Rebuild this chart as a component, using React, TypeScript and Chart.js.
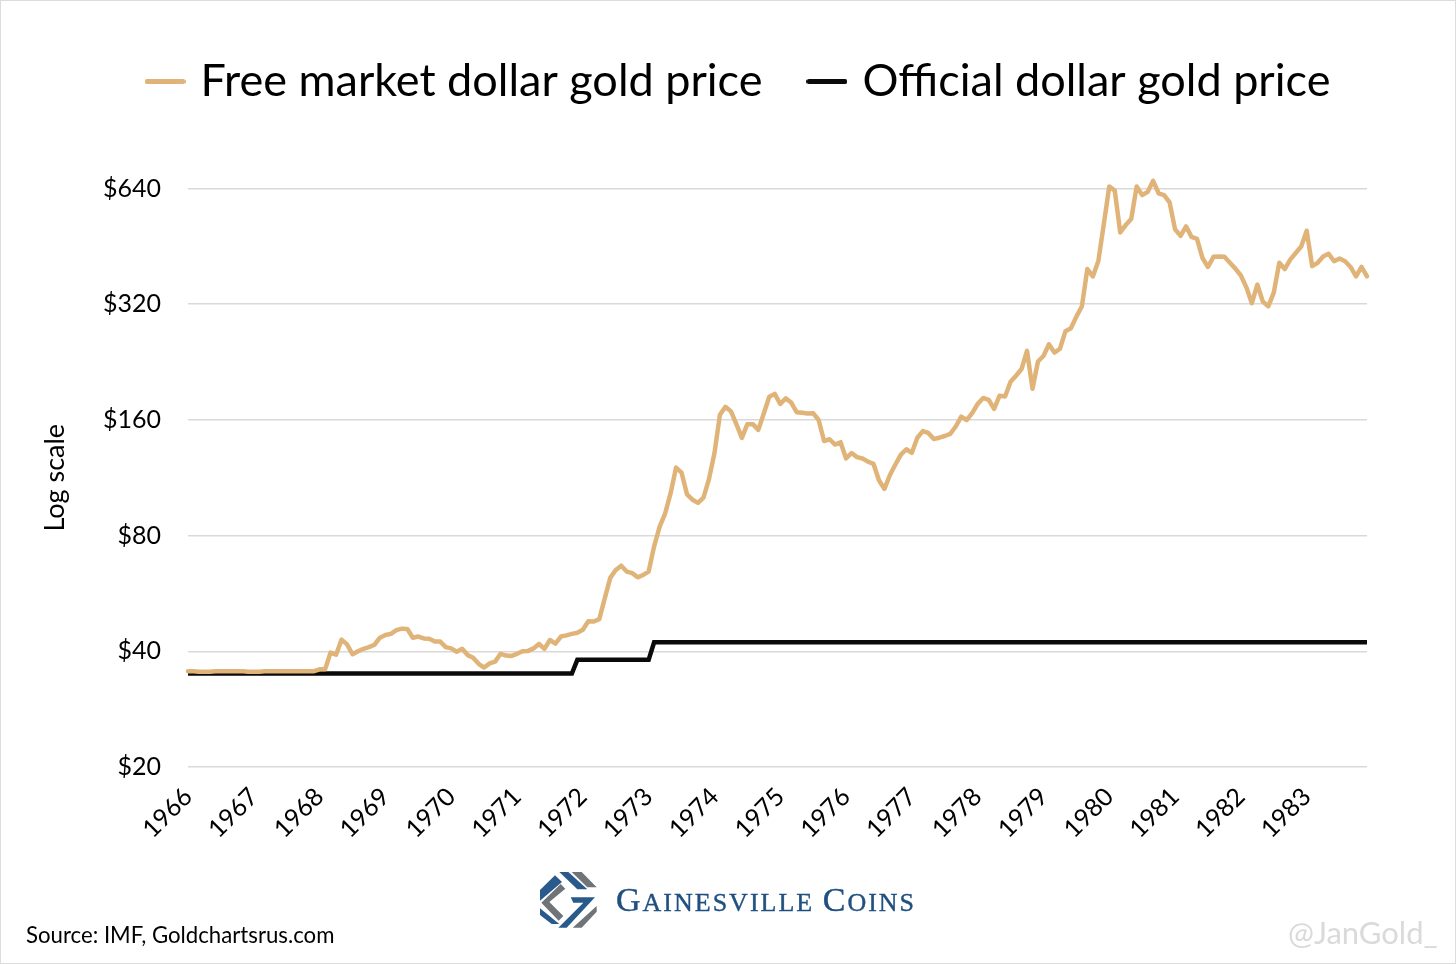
import React, { useEffect, useRef } from "react";
import { Chart, registerables } from "chart.js";

Chart.register(...registerables);

const years = [1966,1967,1968,1969,1970,1971,1972,1973,1974,1975,1976,1977,1978,1979,1980,1981,1982,1983];
const yTicks = [20, 40, 80, 160, 320, 640];

const freeMarket = [
  // 1966
  35.5,35.5,35.4,35.4,35.4,35.5,35.5,35.5,35.5,35.5,35.5,35.4,
  // 1967
  35.4,35.4,35.5,35.5,35.5,35.5,35.5,35.5,35.5,35.5,35.5,35.5,
  // 1968
  35.9,35.9,39.7,39.2,42.9,41.7,39.3,40,40.6,41,41.6,43.4,
  // 1969
  44.1,44.4,45.4,45.8,45.7,43.4,43.7,43.2,43.1,42.4,42.4,41,
  // 1970
  40.7,39.9,40.6,39.1,38.5,37.1,36.3,37.2,37.6,39.4,39,38.9,
  // 1971
  39.4,40,40.1,40.7,41.8,40.6,42.8,41.9,43.7,44,44.4,44.7,
  // 1972
  45.5,47.9,47.8,48.5,54.9,62.1,65.1,66.8,64.5,63.9,62.3,63.2,
  // 1973
  64.5,75,84.3,91.3,103,120.2,116.7,102.4,99.2,97.3,100.4,112.2,
  // 1974
  131,165,173,168.6,156,143.7,156,156,150.7,166.2,183.8,187,
  // 1975
  176,182,177.5,167.6,167,166.3,166.6,159.9,141,142.5,138,140,
  // 1976
  127,131.2,128,127,124.6,123,111.4,105.8,115,122.5,130,134.2,
  // 1977
  131.4,143.8,149.6,148,142.7,143.8,145.3,147.2,153.8,163.2,159.9,166.7,
  // 1978
  176,182.5,180.5,171,185,184,201,208.5,217,242,192.8,227,
  // 1979
  234.6,251.7,239.4,245,272,277,297,315.6,395,378,414,516,
  // 1980
  648,632,492,514,533,648,615,627,670,622,615,589,
  // 1981
  501,482,510,479,473,422,400,425,426,425,410,396,
  // 1982
  380,354,322,360,325,316,343,410,395,418,435,452,
  // 1983
  497,402,410,426,433,414,421,414,400,378,400,378,
];

const official = [
  ...[35,35,35,35,35,35,35,35,35,35,35,35],
  ...[35,35,35,35,35,35,35,35,35,35,35,35],
  ...[35,35,35,35,35,35,35,35,35,35,35,35],
  ...[35,35,35,35,35,35,35,35,35,35,35,35],
  ...[35,35,35,35,35,35,35,35,35,35,35,35],
  ...[35,35,35,35,35,35,35,35,35,35,35,38],
  ...[38,38,38,38,38,38,38,38,38,38,38,38],
  ...[38,42.22,42.22,42.22,42.22,42.22,42.22,42.22,42.22,42.22,42.22,42.22],
  ...[42.22,42.22,42.22,42.22,42.22,42.22,42.22,42.22,42.22,42.22,42.22,42.22],
  ...[42.22,42.22,42.22,42.22,42.22,42.22,42.22,42.22,42.22,42.22,42.22,42.22],
  ...[42.22,42.22,42.22,42.22,42.22,42.22,42.22,42.22,42.22,42.22,42.22,42.22],
  ...[42.22,42.22,42.22,42.22,42.22,42.22,42.22,42.22,42.22,42.22,42.22,42.22],
  ...[42.22,42.22,42.22,42.22,42.22,42.22,42.22,42.22,42.22,42.22,42.22,42.22],
  ...[42.22,42.22,42.22,42.22,42.22,42.22,42.22,42.22,42.22,42.22,42.22,42.22],
  ...[42.22,42.22,42.22,42.22,42.22,42.22,42.22,42.22,42.22,42.22,42.22,42.22],
  ...[42.22,42.22,42.22,42.22,42.22,42.22,42.22,42.22,42.22,42.22,42.22,42.22],
  ...[42.22,42.22,42.22,42.22,42.22,42.22,42.22,42.22,42.22,42.22,42.22,42.22],
  ...[42.22,42.22,42.22,42.22,42.22,42.22,42.22,42.22,42.22,42.22,42.22,42.22],
];

const months = years.flatMap((y) => Array.from({ length: 12 }, (_, m) => `${y}-${m + 1}`));
const FONT = "Lato, 'Open Sans', sans-serif";

const legendPlacer = {
  id: "legendPlacer",
  beforeDraw(chart: any) {
    const l = chart.legend;
    if (!l) return;
    l.left = 100.5;
    l.right = 1456;
    l.top = 7.5;
  },
};

function markerImage(color: string) {
  const c = document.createElement("canvas");
  c.width = 41;
  c.height = 9;
  const g = c.getContext("2d") as CanvasRenderingContext2D;
  g.strokeStyle = color;
  g.lineWidth = 5;
  g.lineCap = "round";
  g.beginPath();
  g.moveTo(2.5, 4.5);
  g.lineTo(38.5, 4.5);
  g.stroke();
  return c;
}

export default function App() {
  const ref = useRef<HTMLCanvasElement>(null);
  useEffect(() => {
    const chart = new Chart(ref.current as HTMLCanvasElement, {
      type: "line",
      plugins: [legendPlacer],
      data: {
        labels: months,
        datasets: [
          { label: "Free market dollar gold price", data: freeMarket, borderColor: "#e0b478", backgroundColor: "#e0b478", borderWidth: 4.5, pointRadius: 0, tension: 0, borderCapStyle: "round", borderJoinStyle: "round", clip: false },
          { label: "Official dollar gold price", data: official, borderColor: "#0a0a0a", backgroundColor: "#0a0a0a", borderWidth: 4.5, pointRadius: 0, tension: 0, borderCapStyle: "butt", clip: false, stepped: false },
        ],
      },
      options: {
        responsive: false,
        animation: false,
        devicePixelRatio: 1,
        layout: { padding: { top: 82, right: 89, left: 0, bottom: 0 } },
        plugins: {
          tooltip: { enabled: false },
          legend: {
            position: "top",
            align: "start",
            maxWidth: 1456,
            labels: {
              usePointStyle: true,
              pointStyleWidth: 26,
              padding: 51.5,
              color: "#000",
              font: { family: FONT, size: 45 },
              generateLabels: (c: any) => c.data.datasets.map((d: any, i: number) => ({
                text: d.label, strokeStyle: d.borderColor, fillStyle: d.borderColor, lineWidth: 5, pointStyle: markerImage(d.borderColor), datasetIndex: i, fontColor: "#000",
              })),
            },
          },
        },
        scales: {
          x: {
            type: "category",
            grid: { display: false, drawTicks: false },
            border: { display: false },
            afterFit: (s: any) => { s.height = 964 - 767; },
            ticks: {
              autoSkip: false,
              maxRotation: 45,
              minRotation: 45,
              padding: 15,
              color: "#000",
              font: { family: FONT, size: 25 },
              callback: (_v: any, i: number) => (i % 12 === 0 ? months[i].slice(0, 4) : null),
            },
          },
          y: {
            type: "logarithmic",
            min: 20,
            max: 640,
            afterFit: (s: any) => { s.width = 188; },
            afterBuildTicks: (s: any) => { s.ticks = yTicks.map((value) => ({ value })); },
            grid: { color: "#d9d9d9", lineWidth: 1.5, drawTicks: false },
            border: { display: false },
            title: { display: true, text: "Log scale", color: "#000", font: { family: FONT, size: 27 }, padding: { top: 39, bottom: 0 } },
            ticks: {
              padding: 27,
              color: "#000",
              font: { family: FONT, size: 25 },
              callback: (v: any) => "$" + v,
            },
          },
        },
      },
    } as any);
    return () => chart.destroy();
  }, []);

  return (
    <div style={{ position: "absolute", left: 0, top: 0, width: 1456, height: 964, background: "#fff", overflow: "hidden" }}>
      <canvas ref={ref} width={1456} height={964} style={{ position: "absolute", left: 0, top: 0, display: "block" }} />
      <div style={{ position: "absolute", left: 0, top: 0, width: 1454, height: 962, border: "1px solid #dcdcdc", pointerEvents: "none" }} />
      <svg style={{ position: "absolute", left: 500, top: 860 }} width={450} height={90} viewBox="0 0 1350 270">
        <g fill="#2a5a8c">
          <polygon points="178,36 205,36 262,88 232,88" />
          <polygon points="120,90 165,46 186,66 120,122" />
          <polygon points="120,145 120,165 155,192 178,192" />
          <polygon points="212,112 285,112 200,203 175,203 250,128 220,128" />
        </g>
        <g fill="#6f7478">
          <polygon points="215,36 245,36 290,82 262,82" />
          <polygon points="182,72 196,86 148,126 190,168 176,182 124,128" />
          <polygon points="290,138 290,155 245,203 218,203" />
        </g>
      </svg>
      <div style={{ position: "absolute", left: 616, top: 880, fontFamily: "'Liberation Serif', serif", fontWeight: 400, WebkitTextStroke: "0.4px #1f5080", color: "#1f5080", whiteSpace: "nowrap", fontSize: 26, letterSpacing: 2, lineHeight: "40px" }}>
        <span style={{ fontSize: 34 }}>G</span>AINESVILLE <span style={{ fontSize: 34 }}>C</span>OINS
      </div>
      <div style={{ position: "absolute", left: 26, top: 921, fontFamily: FONT, color: "#000", fontSize: 22.2, lineHeight: "28px", whiteSpace: "nowrap" }}>Source: IMF, Goldchartsrus.com</div>
      <div style={{ position: "absolute", left: 1288, top: 914, fontFamily: FONT, color: "#dadada", fontSize: 31, lineHeight: "36px", whiteSpace: "nowrap" }}>@JanGold_</div>
    </div>
  );
}
